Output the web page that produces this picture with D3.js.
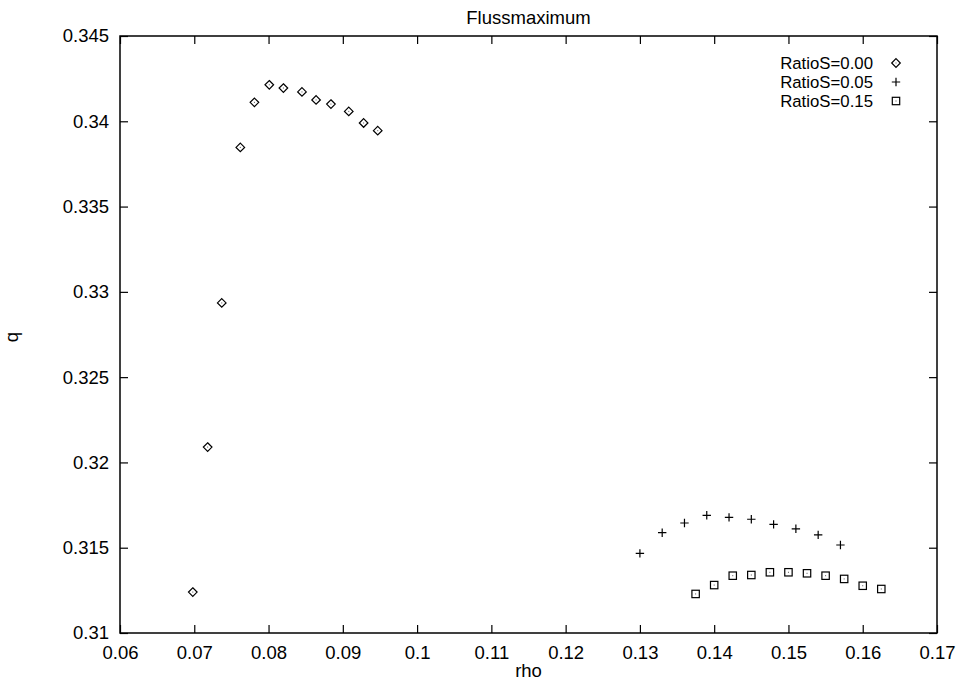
<!DOCTYPE html>
<html>
<head>
<meta charset="utf-8">
<script src="https://cdn.jsdelivr.net/npm/d3@7"></script>
<style>
  html, body { margin: 0; padding: 0; background: #fff; }
  svg text { font-family: "Liberation Sans", Arial, Helvetica, sans-serif; fill: #000; }
</style>
</head>
<body>
<svg id="chart" width="959" height="681"></svg>
<script>
// ---- data ----
const s0_rho = [0.0698, 0.0718, 0.0737, 0.0762, 0.0781, 0.0801, 0.0820, 0.0845, 0.0864, 0.0884, 0.0908, 0.0928, 0.0947];
const s0_q   = [0.3124, 0.3209, 0.32935, 0.33847, 0.34111, 0.34214, 0.34195, 0.34172, 0.34125, 0.34101, 0.34058, 0.3399, 0.33945];

const s1_rho = [0.130, 0.133, 0.136, 0.139, 0.142, 0.145, 0.148, 0.151, 0.154, 0.157];
const s1_q   = [0.31467, 0.31588, 0.31645, 0.3169, 0.31678, 0.31667, 0.31637, 0.31611, 0.31575, 0.31516];

const s2_rho = [0.1375, 0.1400, 0.1425, 0.1450, 0.1475, 0.1500, 0.1525, 0.1550, 0.1575, 0.1600, 0.1625];
const s2_q   = [0.31229, 0.31281, 0.31336, 0.3134, 0.31356, 0.31356, 0.3135, 0.31336, 0.31317, 0.31277, 0.31258];

const seriesNames = ["RatioS=0.00", "RatioS=0.05", "RatioS=0.15"];
const seriesSymbols = ["diamond", "plus", "square"];

const xTicks = [0.06, 0.07, 0.08, 0.09, 0.10, 0.11, 0.12, 0.13, 0.14, 0.15, 0.16, 0.17];
const yTicks = [0.310, 0.315, 0.320, 0.325, 0.330, 0.335, 0.340, 0.345];

const titleText = "Flussmaximum";
const xLabel = "rho";
const yLabel = "q";

// ---- layout ----
const W = 959, H = 681;
const L = 120, R = 937, T = 36, B = 633;
const FS = 18.5;
const LFS = 16.8;

const svg = d3.select("#chart");

const x = d3.scaleLinear().domain([0.06, 0.17]).range([L, R]);
const y = d3.scaleLinear().domain([0.31, 0.345]).range([B, T]);

const xfmt = d3.format(".2~f");
const yfmt = d3.format(".3~f");

// axes with inward ticks
const gx = svg.append("g").attr("transform", `translate(0,${B})`)
  .call(d3.axisBottom(x).tickValues(xTicks).tickFormat(xfmt).tickSizeInner(-8).tickSizeOuter(0).tickPadding(13));
const gxt = svg.append("g").attr("transform", `translate(0,${T})`)
  .call(d3.axisTop(x).tickValues(xTicks).tickFormat("").tickSizeInner(-8).tickSizeOuter(0));
const gy = svg.append("g").attr("transform", `translate(${L},0)`)
  .call(d3.axisLeft(y).tickValues(yTicks).tickFormat(yfmt).tickSizeInner(-8).tickSizeOuter(0).tickPadding(11));
const gyr = svg.append("g").attr("transform", `translate(${R},0)`)
  .call(d3.axisRight(y).tickValues(yTicks).tickFormat("").tickSizeInner(-8).tickSizeOuter(0));

[gx, gxt, gy, gyr].forEach(g => {
  g.select(".domain").remove();
  g.selectAll(".tick line").attr("stroke", "#000").attr("stroke-width", 1.2);
  g.selectAll(".tick text").attr("font-size", FS).attr("font-family", "Liberation Sans, Arial, sans-serif").attr("fill", "#000");
});
gx.selectAll(".tick text").attr("dy", "0.71em");

// frame
svg.append("rect").attr("x", L).attr("y", T).attr("width", R - L).attr("height", B - T)
  .attr("fill", "none").attr("stroke", "#000").attr("stroke-width", 1.5);

// title & labels
svg.append("text").attr("x", (L + R) / 2).attr("y", 24).attr("text-anchor", "middle")
  .attr("font-size", FS).text(titleText);
svg.append("text").attr("x", (L + R) / 2).attr("y", 677).attr("text-anchor", "middle")
  .attr("font-size", FS).text(xLabel);
svg.append("text").attr("transform", `translate(18,337) rotate(-90)`).attr("text-anchor", "middle")
  .attr("font-size", FS).text(yLabel);

// symbols
function drawSymbol(g, type, cx, cy) {
  const sw = 1.2;
  if (type === "diamond") {
    const r = 4.3;
    g.append("path").attr("d", `M${cx},${cy - r}L${cx + r},${cy}L${cx},${cy + r}L${cx - r},${cy}Z`)
      .attr("fill", "none").attr("stroke", "#000").attr("stroke-width", sw);
  } else if (type === "plus") {
    const r = 4.2;
    g.append("path").attr("d", `M${cx - r},${cy}H${cx + r}M${cx},${cy - r}V${cy + r}`)
      .attr("fill", "none").attr("stroke", "#000").attr("stroke-width", sw);
  } else if (type === "square") {
    const r = 3.7;
    g.append("rect").attr("x", cx - r).attr("y", cy - r).attr("width", 2 * r).attr("height", 2 * r)
      .attr("fill", "none").attr("stroke", "#000").attr("stroke-width", sw);
  }
  if (type !== "plus") {
    g.append("rect").attr("x", cx - 0.5).attr("y", cy - 0.5).attr("width", 1).attr("height", 1).attr("fill", "#555");
  }
}

const series = [
  { rho: s0_rho, q: s0_q },
  { rho: s1_rho, q: s1_q },
  { rho: s2_rho, q: s2_q }
];

const gp = svg.append("g");
series.forEach((s, i) => {
  const g = gp.append("g").attr("class", "series-" + i);
  s.rho.forEach((r, j) => drawSymbol(g, seriesSymbols[i], x(r), y(s.q[j])));
});

// legend
const lg = svg.append("g");
seriesNames.forEach((name, i) => {
  const cy = 63 + i * 19;
  lg.append("text").attr("x", 873).attr("y", cy).attr("dy", "0.35em").attr("text-anchor", "end")
    .attr("font-size", LFS).text(name);
  drawSymbol(lg, seriesSymbols[i], 896, cy);
});
</script>
</body>
</html>
